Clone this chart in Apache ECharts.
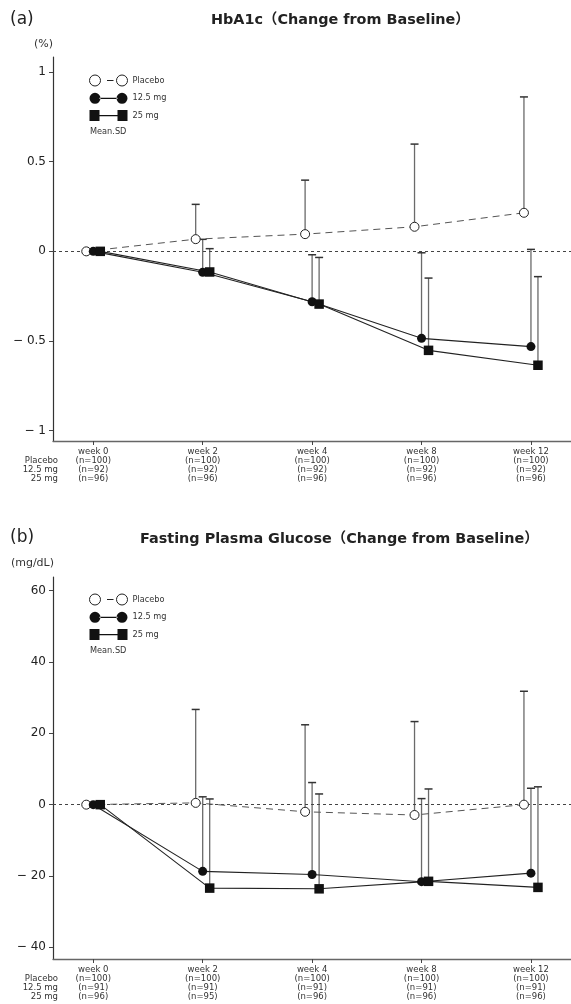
<!DOCTYPE html>
<html><head><meta charset="utf-8">
<script src="https://cdn.jsdelivr.net/npm/echarts@6/dist/echarts.min.js"></script>
<style>html,body{margin:0;padding:0;background:#fff}#c{width:571px;height:1004px}</style>
</head><body><div id="c"></div>
<script>
// ---------- data ----------
const weeks = ['week 0', 'week 2', 'week 4', 'week 8', 'week 12'];
const groups = ['Placebo', '12.5 mg', '25 mg'];

// (a) HbA1c change from baseline (%)
const nA_placebo = [100, 100, 100, 100, 100];
const nA_125 = [92, 92, 92, 92, 92];
const nA_25 = [96, 96, 96, 96, 96];
const hba1cPlaceboMean = [0, 0.068, 0.096, 0.137, 0.215];
const hba1cPlaceboSD   = [0, 0.194, 0.301, 0.461, 0.646];
const hba1c125Mean     = [0, -0.117, -0.281, -0.485, -0.531];
const hba1c125SD       = [0, 0.184, 0.262, 0.477, 0.542];
const hba1c25Mean      = [0, -0.115, -0.294, -0.552, -0.635];
const hba1c25SD        = [0, 0.130, 0.260, 0.403, 0.494];
const yTicksA = [-1, -0.5, 0, 0.5, 1];

// (b) Fasting plasma glucose change from baseline (mg/dL)
const nB_placebo = [100, 100, 100, 100, 100];
const nB_125 = [91, 91, 91, 91, 91];
const nB_25 = [96, 95, 96, 96, 96];
const fpgPlaceboMean = [0, 0.5, -2.0, -2.9, 0.0];
const fpgPlaceboSD   = [0, 26.2, 24.4, 26.2, 31.8];
const fpg125Mean     = [0, -18.7, -19.6, -21.6, -19.2];
const fpg125SD       = [0, 20.9, 25.8, 23.3, 23.8];
const fpg25Mean      = [0, -23.4, -23.6, -21.5, -23.2];
const fpg25SD        = [0, 25.0, 26.6, 25.9, 28.2];
const yTicksB = [-40, -20, 0, 20, 40, 60];

// ---------- layout / style ----------
const FONT = "'DejaVu Sans', 'Noto Sans CJK JP', sans-serif";
const DODGE = [-0.064, 0, 0.064];
const GA = { left: 53, top: 57, width: 518, height: 384 };
const GB = { left: 53, top: 577, width: 518, height: 382 };
const X_MIN = -0.368, X_MAX = 4.366;

const ICON_OPEN = 'path://M0,5.5A5.5,5.5,0,1,0,11,5.5A5.5,5.5,0,1,0,0,5.5Z M27,5.5A5.5,5.5,0,1,0,38,5.5A5.5,5.5,0,1,0,27,5.5Z M17.5,5.5L24,5.5';
const ICON_CIRC = 'path://M0,5.5A5.5,5.5,0,1,0,11,5.5A5.5,5.5,0,1,0,0,5.5Z M27,5.5A5.5,5.5,0,1,0,38,5.5A5.5,5.5,0,1,0,27,5.5Z M10,5L28,5L28,6.1L10,6.1Z';
const ICON_SQ = 'path://M0,0L10,0L10,11L0,11Z M28,0L38,0L38,11L28,11Z M10,5L28,5L28,6.1L10,6.1Z';

function fmtY(v) {
  if (v < 0) return '\u2212 ' + String(-v);
  return String(v);
}
function xLabels(nP, n1, n2) {
  return v => weeks[v] + '\n(n=' + nP[v] + ')\n(n=' + n1[v] + ')\n(n=' + n2[v] + ')';
}
function pts(mean, g) { return mean.map((m, i) => [i + DODGE[g], m]); }
function bars(mean, sd, g) {
  return mean.map((m, i) => [i + DODGE[g], m, m + sd[i], sd[i]]).filter(d => d[3] > 0);
}
function errRender(params, api) {
  const x = api.value(0), lo = api.value(1), hi = api.value(2);
  const p0 = api.coord([x, lo]), p1 = api.coord([x, hi]);
  return { type: 'group', children: [
    { type: 'line', shape: { x1: p0[0], y1: p0[1], x2: p1[0], y2: p1[1] }, style: { stroke: '#6a6a6a', lineWidth: 1.3 } },
    { type: 'line', shape: { x1: p1[0] - 4, y1: p1[1], x2: p1[0] + 4, y2: p1[1] }, style: { stroke: '#333', lineWidth: 1.5 } }
  ]};
}

function xAxis(gi, nP, n1, n2) {
  return {
    type: 'value', gridIndex: gi, min: X_MIN, max: X_MAX,
    axisLine: { onZero: false, lineStyle: { color: '#666', width: 1.3 } },
    axisTick: { customValues: [0, 1, 2, 3, 4], length: 4, lineStyle: { color: '#444' } },
    axisLabel: { customValues: [0, 1, 2, 3, 4], formatter: xLabels(nP, n1, n2), margin: 6,
      fontSize: 8.5, lineHeight: 9, color: '#333', fontFamily: FONT },
    splitLine: { show: false }
  };
}
function yAxis(gi, ticks, mn, mx) {
  return {
    type: 'value', gridIndex: gi, min: mn, max: mx,
    axisLine: { show: true, onZero: false, lineStyle: { color: '#333', width: 1.2 } },
    axisTick: { show: true, customValues: ticks, length: 4, lineStyle: { color: '#444' } },
    axisLabel: { customValues: ticks, formatter: fmtY, margin: 7, fontSize: 12, color: '#222', fontFamily: FONT },
    splitLine: { show: false }
  };
}
function lineSeries(name, gi, data, kind) {
  const base = { name, type: 'line', xAxisIndex: gi, yAxisIndex: gi, data, z: 5,
    symbolSize: 9, animation: false };
  if (kind === 0) {
    base.symbol = 'circle';
    base.itemStyle = { color: '#fff', borderColor: '#222', borderWidth: 1 };
    base.lineStyle = { color: '#555', width: 1, type: [7, 5] };
  } else if (kind === 1) {
    base.symbol = 'circle';
    base.itemStyle = { color: '#111' };
    base.lineStyle = { color: '#222', width: 1.1 };
  } else {
    base.symbol = 'rect';
    base.symbolSize = 9.5;
    base.itemStyle = { color: '#111' };
    base.lineStyle = { color: '#222', width: 1.1 };
  }
  return base;
}
function errSeries(name, gi, data) {
  return { name, type: 'custom', xAxisIndex: gi, yAxisIndex: gi, data, z: 3,
    renderItem: errRender, encode: { x: 0, y: [1, 2] }, animation: false, silent: true };
}
function zeroLine(gi) {
  return { type: 'line', xAxisIndex: gi, yAxisIndex: gi, data: [], z: 2, silent: true,
    markLine: { silent: true, symbol: 'none', label: { show: false }, animation: false,
      lineStyle: { type: [3, 3], color: '#444', width: 1 }, data: [{ yAxis: 0 }] } };
}
function legend(top) {
  return {
    orient: 'vertical', left: 89, top, padding: 0, itemGap: 6.3, itemWidth: 38, itemHeight: 11,
    selectedMode: false,
    textStyle: { fontSize: 8.2, color: '#333', fontFamily: FONT, lineHeight: 11 },
    data: [
      { name: groups[0], icon: ICON_OPEN, itemStyle: { color: '#fff', borderColor: '#222', borderWidth: 1 } },
      { name: groups[1], icon: ICON_CIRC, itemStyle: { color: '#111', borderWidth: 0 } },
      { name: groups[2], icon: ICON_SQ, itemStyle: { color: '#111', borderWidth: 0 } }
    ]
  };
}

const yMinA = -1.0574, yMaxA = 1.0836;
const yMinB = -43.28, yMaxB = 63.84;

const TITLE_STYLE = { fontSize: 14.4, fontWeight: 'bold', color: '#222', fontFamily: FONT };
const option = {
  backgroundColor: '#fff',
  animation: false,
  textStyle: { fontFamily: FONT },
  title: [
    { text: '(a)', left: 10, top: 11, padding: 0, textStyle: { fontSize: 17, fontWeight: 'normal', color: '#222', fontFamily: FONT } },
    { text: 'HbA1c\uFF08Change from Baseline\uFF09', left: 211, top: 13, padding: 0, textStyle: TITLE_STYLE },
    { text: '(%)', right: 518, top: 39, padding: 0, textStyle: { fontSize: 11, fontWeight: 'normal', color: '#333', fontFamily: FONT } },
    { text: 'Mean.SD', left: 90, top: 128, padding: 0, textStyle: { fontSize: 8.2, fontWeight: 'normal', color: '#333', fontFamily: FONT } },
    { text: '(b)', left: 10, top: 529, padding: 0, textStyle: { fontSize: 17, fontWeight: 'normal', color: '#222', fontFamily: FONT } },
    { text: 'Fasting Plasma Glucose\uFF08Change from Baseline\uFF09', left: 140, top: 532, padding: 0, textStyle: TITLE_STYLE },
    { text: '(mg/dL)', right: 517, top: 558, padding: 0, textStyle: { fontSize: 11, fontWeight: 'normal', color: '#333', fontFamily: FONT } },
    { text: 'Mean.SD', left: 90, top: 647, padding: 0, textStyle: { fontSize: 8.2, fontWeight: 'normal', color: '#333', fontFamily: FONT } }
  ],
  legend: [legend(74.5), legend(593.5)],
  grid: [GA, GB],
  xAxis: [xAxis(0, nA_placebo, nA_125, nA_25), xAxis(1, nB_placebo, nB_125, nB_25)],
  yAxis: [yAxis(0, yTicksA, yMinA, yMaxA), yAxis(1, yTicksB, yMinB, yMaxB)],
  graphic: [
    { type: 'text', x: 58, y: GA.top + GA.height + 15, style: { text: groups.join('\n'), align: 'right', verticalAlign: 'top', fontSize: 8.5, lineHeight: 9, fill: '#333', fontFamily: FONT } },
    { type: 'text', x: 58, y: GB.top + GB.height + 15, style: { text: groups.join('\n'), align: 'right', verticalAlign: 'top', fontSize: 8.5, lineHeight: 9, fill: '#333', fontFamily: FONT } }
  ],
  series: [
    zeroLine(0),
    errSeries(groups[0], 0, bars(hba1cPlaceboMean, hba1cPlaceboSD, 0)),
    errSeries(groups[1], 0, bars(hba1c125Mean, hba1c125SD, 1)),
    errSeries(groups[2], 0, bars(hba1c25Mean, hba1c25SD, 2)),
    lineSeries(groups[0], 0, pts(hba1cPlaceboMean, 0), 0),
    lineSeries(groups[1], 0, pts(hba1c125Mean, 1), 1),
    lineSeries(groups[2], 0, pts(hba1c25Mean, 2), 2),
    zeroLine(1),
    errSeries(groups[0], 1, bars(fpgPlaceboMean, fpgPlaceboSD, 0)),
    errSeries(groups[1], 1, bars(fpg125Mean, fpg125SD, 1)),
    errSeries(groups[2], 1, bars(fpg25Mean, fpg25SD, 2)),
    lineSeries(groups[0], 1, pts(fpgPlaceboMean, 0), 0),
    lineSeries(groups[1], 1, pts(fpg125Mean, 1), 1),
    lineSeries(groups[2], 1, pts(fpg25Mean, 2), 2)
  ]
};
const chart = echarts.init(document.getElementById('c'), null, { renderer: 'canvas' });
chart.setOption(option);
</script>
</body></html>
